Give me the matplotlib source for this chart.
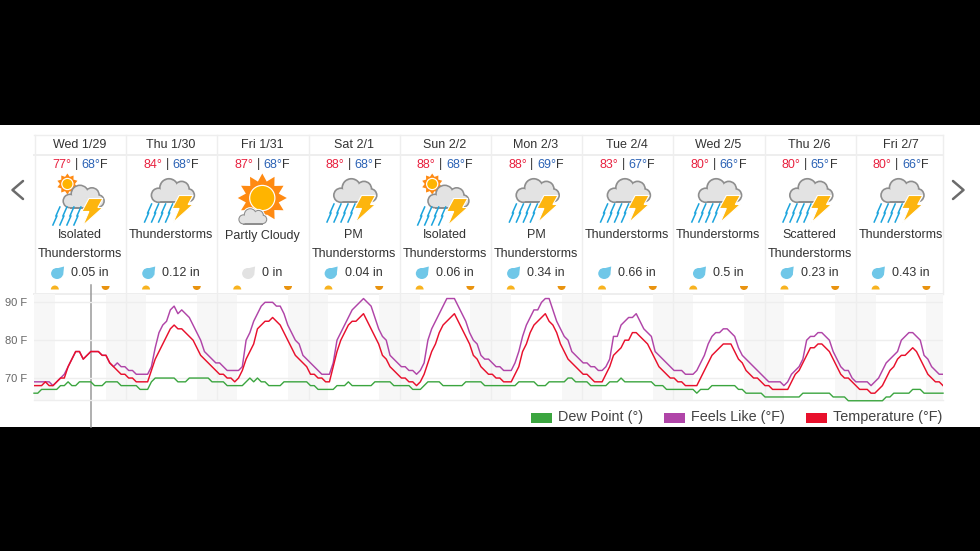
import numpy as np
import matplotlib
matplotlib.use("Agg")
import matplotlib.pyplot as plt
from matplotlib.patches import Circle, Ellipse, Polygon, Rectangle, Wedge

plt.rcParams['font.family'] = ['Liberation Sans', 'DejaVu Sans']

days = ["Wed 1/29", "Thu 1/30", "Fri 1/31", "Sat 2/1", "Sun 2/2", "Mon 2/3", "Tue 2/4", "Wed 2/5", "Thu 2/6", "Fri 2/7"]
highs = [77, 84, 87, 88, 88, 88, 83, 80, 80, 80]
lows = [68, 68, 68, 68, 68, 69, 67, 66, 65, 66]
labels = ["Isolated\nThunderstorms", "Thunderstorms", "Partly Cloudy", "PM\nThunderstorms", "Isolated\nThunderstorms",
          "PM\nThunderstorms", "Thunderstorms", "Thunderstorms", "Scattered\nThunderstorms", "Thunderstorms"]
icons = ["sunstorm", "storm", "partly", "storm", "sunstorm", "storm", "storm", "storm", "storm", "storm"]
precip = ["0.05", "0.12", "0", "0.04", "0.06", "0.34", "0.66", "0.5", "0.23", "0.43"]

# hourly values, one row per day
temperature = [
    68, 68, 68, 69, 68, 68, 69, 70, 70, 73, 75, 77, 77, 75, 76, 77, 77, 77, 76, 76, 74, 73, 72, 71,
    71, 70, 70, 69, 69, 69, 69, 72, 75, 77, 79, 81, 83, 84, 83, 83, 82, 81, 80, 78, 76, 75, 74, 73,
    72, 71, 71, 70, 70, 69, 70, 72, 75, 77, 79, 83, 84, 85, 85, 86, 85, 84, 82, 80, 78, 76, 75, 74,
    73, 71, 71, 70, 70, 69, 69, 73, 77, 80, 82, 84, 85, 85, 86, 87, 85, 83, 81, 79, 76, 75, 73, 72,
    71, 70, 70, 69, 69, 68, 69, 71, 74, 77, 79, 82, 84, 85, 86, 87, 85, 83, 81, 79, 76, 75, 73, 72,
    71, 71, 70, 70, 69, 69, 69, 71, 73, 77, 79, 82, 84, 85, 86, 87, 85, 84, 82, 79, 77, 75, 74, 73,
    72, 71, 71, 70, 69, 69, 69, 71, 73, 76, 77, 78, 80, 80, 82, 82, 81, 80, 79, 77, 75, 73, 72, 71,
    70, 70, 69, 69, 68, 68, 68, 68, 70, 72, 74, 76, 77, 78, 79, 79, 79, 77, 75, 74, 72, 71, 70, 70,
    69, 68, 68, 67, 67, 67, 67, 67, 69, 71, 72, 74, 76, 78, 78, 79, 79, 78, 77, 75, 73, 71, 70, 70,
    69, 68, 67, 67, 67, 66, 66, 67, 68, 70, 72, 73, 75, 76, 76, 77, 78, 77, 75, 73, 71, 70, 69, 69, 68,
]
feels_like = [
    69, 69, 69, 69, 69, 68, 69, 70, 71, 73, 75, 77, 77, 75, 76, 77, 77, 77, 76, 76, 74, 73, 74, 73,
    73, 72, 72, 71, 71, 71, 71, 73, 78, 82, 84, 85, 88, 89, 87, 88, 87, 86, 84, 82, 80, 77, 76, 75,
    74, 74, 73, 72, 72, 72, 72, 73, 80, 82, 85, 87, 89, 90, 90, 90, 89, 89, 87, 84, 82, 80, 79, 76,
    75, 74, 73, 72, 71, 71, 71, 74, 80, 82, 84, 86, 88, 89, 90, 91, 90, 89, 86, 83, 81, 80, 76, 75,
    74, 73, 73, 72, 72, 71, 72, 74, 80, 83, 85, 87, 89, 91, 91, 91, 89, 87, 85, 82, 80, 79, 76, 75,
    75, 74, 73, 73, 72, 72, 72, 74, 77, 81, 84, 86, 88, 88, 90, 91, 91, 88, 85, 83, 81, 80, 77, 76,
    75, 74, 74, 73, 73, 72, 72, 73, 75, 81, 81, 84, 85, 86, 86, 87, 85, 83, 82, 81, 77, 76, 75, 74,
    73, 72, 72, 72, 71, 71, 71, 72, 74, 76, 79, 81, 82, 82, 83, 83, 82, 81, 78, 76, 75, 74, 73, 72,
    71, 70, 69, 69, 69, 69, 68, 69, 71, 72, 73, 75, 80, 81, 81, 82, 82, 81, 80, 77, 75, 73, 72, 72,
    70, 69, 69, 69, 69, 68, 69, 70, 72, 74, 75, 76, 77, 80, 81, 82, 82, 81, 80, 76, 75, 73, 72, 71, 71,
]
dew_point = [
    66, 66, 67, 67, 67, 67, 67, 68, 68, 69, 68, 68, 69, 69, 69, 69, 68, 68, 68, 69, 69, 69, 69, 68,
    68, 68, 68, 68, 67, 67, 67, 69, 70, 70, 70, 70, 70, 70, 69, 69, 69, 70, 70, 70, 70, 70, 70, 69,
    69, 69, 69, 68, 68, 68, 68, 68, 69, 70, 69, 70, 69, 69, 68, 68, 68, 68, 69, 69, 69, 69, 69, 69,
    69, 68, 68, 67, 67, 67, 67, 67, 68, 68, 68, 69, 68, 68, 68, 68, 68, 68, 69, 69, 69, 69, 69, 68,
    68, 68, 68, 68, 67, 67, 67, 68, 69, 69, 69, 69, 68, 68, 68, 68, 68, 68, 69, 69, 69, 69, 69, 68,
    68, 68, 68, 68, 68, 68, 68, 68, 69, 69, 69, 69, 69, 68, 68, 68, 69, 69, 69, 69, 69, 70, 70, 69,
    69, 69, 69, 68, 68, 68, 68, 68, 69, 69, 69, 70, 69, 69, 69, 69, 69, 69, 69, 69, 68, 68, 68, 67,
    67, 67, 67, 67, 67, 67, 67, 66, 67, 67, 67, 68, 68, 68, 68, 68, 68, 68, 67, 67, 66, 66, 66, 66,
    66, 65, 65, 65, 65, 65, 65, 65, 65, 65, 65, 66, 66, 66, 66, 66, 66, 66, 66, 65, 65, 65, 65, 64,
    64, 64, 64, 64, 64, 64, 64, 64, 64, 65, 65, 66, 66, 66, 66, 66, 67, 67, 67, 66, 66, 66, 66, 66, 66,
]
yticks = [70, 80, 90]
sunrise_hour = 5.5
sunset_hour = 18.9

GRID = "#eeeeee"
BAND = "#f7f7f7"
TXT = "#333333"
LEFT, CELL = 35, 91.2
RIGHT = 943
PX_PER_HOUR = 909 / 240
CELL_HOURS = CELL / PX_PER_HOUR

fig = plt.figure(figsize=(9.8, 5.51), dpi=100, facecolor="black")

# page layer in pixel coordinates, for the forecast cards
bg = fig.add_axes([0, 0, 1, 1], zorder=0)
bg.set_xlim(0, 980)
bg.set_ylim(551, 0)
bg.axis("off")
bg.add_patch(Rectangle((0, 125), 980, 302, fc="white", ec="none"))

# chart
ax = fig.add_axes([34 / 980, (551 - 400) / 551, 909 / 980, 106 / 551], zorder=1)
ax.patch.set_alpha(0)
ax.set_xlim(0, 240)
ax.set_ylim(64.2, 92.2)
for d in range(-1, 10):
    ax.axvspan(max(d * CELL_HOURS + sunset_hour, 0), min((d + 1) * CELL_HOURS + sunrise_hour, 240),
               color=BAND, lw=0, zorder=0)
for d in range(1, 10):
    ax.axvline(d * CELL_HOURS + 0.26, color=GRID, lw=1, zorder=1)
ax.set_yticks(yticks)
ax.set_yticklabels([f"{v} F" for v in yticks], color="#666666", fontsize=8)
ax.set_xticks([])
ax.tick_params(axis="y", length=0, pad=5)
ax.grid(axis="y", color=GRID, lw=1, zorder=1)
ax.set_axisbelow(True)
for s in ax.spines.values():
    s.set_visible(False)
ax.plot(np.arange(len(dew_point)), dew_point, color="#3ba53f", lw=1.0, zorder=3, clip_on=False)
ax.plot(np.arange(len(feels_like)), feels_like, color="#b045a8", lw=1.05, zorder=4)
ax.plot(np.arange(len(temperature)), temperature, color="#e8102c", lw=1.05, zorder=5)
ax.plot([0, 240], [64.2, 64.2], color=GRID, lw=1, zorder=1, clip_on=False)


def cloud(cx, cy, s=1.0, z=3, halo=False):
    parts = [(-13, 5, 7.5), (-3, -2, 9.5), (9, -1, 8), (15, 5, 7)]
    layers = [("#8e8e8e", 0), ("#e3e3e3", 1.6)]
    if halo:
        layers.insert(0, ("white", -1.5))
    for col, inset in layers:
        for dx, dy, r in parts:
            bg.add_patch(Circle((cx + dx * s, cy + dy * s), (r - inset) * s, fc=col, ec="none", zorder=z))
        bg.add_patch(Rectangle((cx - 13 * s, cy + 2 * s), 28 * s, (10.5 - inset) * s, fc=col, ec="none", zorder=z))


def bolt(cx, cy):
    shape = [(-3, -13), (11, -13), (6, -4), (11, -4), (-9, 14), (-3, 0), (-10, 0)]
    bg.add_patch(Polygon([(cx + a, cy + b) for a, b in shape], fc="#fdb50e", ec="white", lw=0.8, zorder=5))


def rain(cx, cy):
    for row, dy in enumerate((-5, 4)):
        for k in range(4):
            x0 = cx - 9 + k * 7 - row * 3
            bg.plot([x0 + 2.5, x0 - 1.5], [cy + dy - 4, cy + dy + 5], color="#1ba4dd", lw=1.1, zorder=4)


def sun(cx, cy, r_out, r_in, r_disc, n=12, z=2):
    ang = np.linspace(0, 2 * np.pi, n * 2, endpoint=False) - np.pi / 2
    rad = np.where(np.arange(n * 2) % 2 == 0, r_out, r_in)
    bg.add_patch(Polygon(np.c_[cx + rad * np.cos(ang), cy + rad * np.sin(ang)], fc="#ff8a12", ec="none", zorder=z))
    bg.add_patch(Circle((cx, cy), r_disc + 1.2, fc="white", ec="none", zorder=z))
    bg.add_patch(Circle((cx, cy), r_disc, fc="#ffb400", ec="none", zorder=z))


def drop(cx, cy, color):
    bg.add_patch(Ellipse((cx - 0.5, cy + 1), 12, 11, fc=color, ec="none", zorder=3))
    bg.add_patch(Polygon([(cx + 6.5, cy - 6), (cx - 5, cy - 3), (cx + 5.5, cy + 3)], fc=color, ec="none", zorder=3))


renderer = fig.canvas.get_renderer()
bg.plot([34, RIGHT], [134.5, 134.5], color=GRID, lw=1)
bg.plot([34, RIGHT], [154.5, 154.5], color=GRID, lw=1.4)
bg.plot([34, RIGHT], [294, 294], color=GRID, lw=1.4)
for i in range(11):
    x = min(LEFT + i * CELL, RIGHT)
    bg.plot([x, x], [134.5, 294], color=GRID, lw=1)

for i, day in enumerate(days):
    x0 = LEFT + i * CELL
    cx = x0 + CELL / 2 - 0.7
    bg.text(cx, 144.5, day, ha="center", va="center", fontsize=9, color=TXT)

    # high | low, laid out left to right around the cell centre
    parts = [(f"{highs[i]}°", "#e8213f"), ("|", TXT), (f"{lows[i]}°", "#2b62b5"), ("F", TXT)]
    items = [bg.text(0, 164.5, p, fontsize=9, color=c, va="center", ha="left") for p, c in parts]
    widths = [t.get_window_extent(renderer).width for t in items]
    gaps = [3.5, 3.5, 0, 0]
    xp = cx - (sum(widths) + sum(gaps)) / 2
    for t, w, g in zip(items, widths, gaps):
        t.set_x(xp)
        xp += w + g

    if icons[i] == "storm":
        cloud(cx + 1, 190, 1.05)
        rain(cx - 13, 213)
        bolt(cx + 11, 208.5)
    elif icons[i] == "sunstorm":
        sun(cx - 12.5, 184, 10.5, 7.5, 5, n=10)
        cloud(cx + 3, 196, 1.0)
        rain(cx - 13.5, 216)
        bolt(cx + 12, 211.5)
    else:
        sun(cx, 198, 24.5, 17, 12)
        cloud(cx - 10, 216, 0.68, z=3, halo=True)

    for j, line in enumerate(labels[i].split("\n")):
        bg.text(cx, 235.5 + j * 18.8, line, ha="center", va="center", fontsize=9, color=TXT)

    # rain amount, drop and text centred together
    t = bg.text(0, 272.5, f"{precip[i]} in", fontsize=9, color=TXT, ha="left", va="center")
    w = t.get_window_extent(renderer).width
    start = cx - (w + 20) / 2
    t.set_x(start + 20)
    drop(start + 6.5, 272.5, "#e2e2e2" if precip[i] == "0" else "#6fc7e8")

    # sunrise and sunset markers
    bg.add_patch(Wedge((x0 + sunrise_hour * PX_PER_HOUR - 1, 289.5), 4, 180, 360, fc="#f8b320", ec="none", zorder=3))
    bg.add_patch(Wedge((x0 + sunset_hour * PX_PER_HOUR - 1, 286), 4, 0, 180, fc="#e9930f", ec="none", zorder=3))

# cursor line
bg.plot([90.7, 90.7], [285, 427], color="#9a9a9a", lw=1.1, zorder=6)

# paging arrows
for xs in ([23, 12.5, 23], [953, 963.5, 953]):
    bg.plot(xs, [181, 190, 199], color="#6b6b6b", lw=1.8, solid_capstyle="round")

# legend
legend_names = ["Dew Point (°)", "Feels Like (°F)", "Temperature (°F)"]
legend_colors = ["#3ba53f", "#b045a8", "#e8102c"]
legend_x = [531, 664, 806]
for name, col, lx in zip(legend_names, legend_colors, legend_x):
    bg.add_patch(Rectangle((lx, 413), 20.5, 10, fc=col, ec="none"))
    bg.text(lx + 26.5, 417.5, name, fontsize=10.4, color="#444444", va="center", ha="left")

fig.savefig("out.png", dpi=100, facecolor=fig.get_facecolor())
